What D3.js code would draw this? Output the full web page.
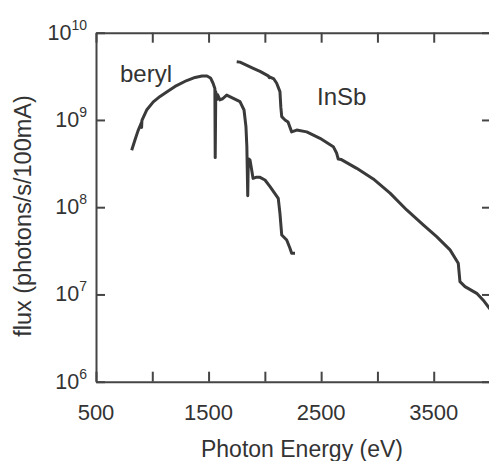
<!DOCTYPE html>
<html>
<head>
<meta charset="utf-8">
<script src="https://cdn.jsdelivr.net/npm/d3@7"></script>
<style>
  body { margin: 0; background: #fff; }
  svg text { font-family: "Liberation Sans", Arial, Helvetica, sans-serif; fill: #333; }
</style>
</head>
<body>
<script>
// flux curves (energy in eV, flux in photons/s/100mA)
var berylEnergy = [817, 846, 873, 903, 905, 908, 950, 1009, 1069, 1128, 1202, 1306, 1380, 1442, 1486, 1517, 1539, 1556, 1559, 1564,
  1572, 1580, 1600, 1625, 1661, 1720, 1779, 1815, 1832, 1840, 1848, 1853, 1868, 1883, 1895, 1921, 1957,
  2001, 2046, 2119, 2134, 2150, 2194, 2223, 2238, 2268];
var berylFlux = [4.5e8, 5.9e8, 7.5e8, 9.3e8, 8.2e8, 9.9e8, 1.3e9, 1.61e9, 1.86e9, 2.09e9, 2.42e9, 2.83e9, 3.07e9, 3.19e9, 3.19e9, 3.03e9, 2.65e9, 2.3e9, 3.7e8, 2.1e9,
  1.7e9, 1.95e9, 1.7e9, 1.75e9, 1.93e9, 1.77e9, 1.62e9, 1.3e9, 8.4e8, 5.0e8, 1.35e8, 3.6e8, 3.48e8, 2.67e8, 2.14e8, 2.2e8, 2.2e8,
  2.05e8, 1.72e8, 1.26e8, 8.5e7, 4.8e7, 4.2e7, 3.38e7, 2.96e7, 2.96e7];

var insbEnergy = [1750, 1779, 1897, 1957, 2030, 2040, 2046, 2080, 2105, 2134, 2142, 2150, 2179, 2206, 2238, 2283, 2372,
  2490, 2608, 2638, 2652, 2676, 2816, 2963, 3112, 3260, 3407, 3526, 3645, 3718, 3733, 3778, 3882, 3940, 3985, 4000];
var insbFlux = [4.65e9, 4.6e9, 3.91e9, 3.6e9, 3.2e9, 3.05e9, 3.1e9, 2.95e9, 2.63e9, 2.11e9, 1.4e9, 1.09e9, 1.0e9, 9.5e8, 7.3e8, 7.65e8, 7.3e8,
  6.16e8, 4.94e8, 4.15e8, 3.57e8, 3.53e8, 2.79e8, 2.11e8, 1.45e8, 9.3e7, 6.27e7, 4.6e7, 3.24e7, 2.28e7, 1.4e7, 1.23e7, 1.03e7, 8.6e6, 7.2e6, 6.8e6];

var xTicks = [500, 1000, 1500, 2000, 2500, 3000, 3500, 4000];
var xLabels = [500, 1500, 2500, 3500];
var yExponents = [6, 7, 8, 9, 10];

var plotLeft = 96, plotRight = 490, plotTop = 32.7, plotBottom = 381.7;

var svg = d3.select("body")
  .append("svg")
    .attr("width", 489)
    .attr("height", 461);

var x = d3.scaleLinear().domain([500, 4000]).range([plotLeft, plotRight]);
var y = d3.scaleLog().domain([1e6, 1e10]).range([plotBottom, plotTop]);

var axisColor = "#454545";
var yTickValues = yExponents.map(function(e) { return Math.pow(10, e); });

// frame axes, ticks pointing inward
function styleAxis(g) {
  g.select(".domain").attr("stroke", axisColor).attr("stroke-width", 2);
  g.selectAll(".tick line").attr("stroke", axisColor).attr("stroke-width", 2);
  g.selectAll(".tick text").remove();
}

svg.append("g")
    .attr("transform", "translate(0," + plotBottom + ")")
    .call(d3.axisBottom(x).tickValues(xTicks).tickSizeInner(-10).tickSizeOuter(0))
    .call(styleAxis);
svg.append("g")
    .attr("transform", "translate(0," + plotTop + ")")
    .call(d3.axisTop(x).tickValues(xTicks).tickSizeInner(-10).tickSizeOuter(0))
    .call(styleAxis);
svg.append("g")
    .attr("transform", "translate(" + plotLeft + ",0)")
    .call(d3.axisLeft(y).tickValues(yTickValues).tickSizeInner(-9).tickSizeOuter(0))
    .call(styleAxis);
svg.append("g")
    .attr("transform", "translate(" + plotRight + ",0)")
    .call(d3.axisRight(y).tickValues(yTickValues).tickSizeInner(-8).tickSizeOuter(0))
    .call(styleAxis);

// x tick labels
svg.selectAll(".xlab")
    .data(xLabels)
    .enter()
  .append("text")
    .attr("class", "xlab")
    .attr("x", function(d) { return x(d); })
    .attr("y", 420)
    .attr("text-anchor", "middle")
    .attr("font-size", "22px")
    .text(function(d) { return d; });

// y tick labels: 10 with superscript exponent
var ylab = svg.selectAll(".ylab")
    .data(yExponents)
    .enter()
  .append("text")
    .attr("class", "ylab")
    .attr("x", 87)
    .attr("y", function(d) { return y(Math.pow(10, d)) + 7; })
    .attr("text-anchor", "end")
    .attr("font-size", "21.5px");
ylab.append("tspan").text("10");
ylab.append("tspan")
    .attr("font-size", "14px")
    .attr("dy", -10)
    .text(function(d) { return d; });

// axis titles
svg.append("text")
    .attr("x", 302)
    .attr("y", 457)
    .attr("text-anchor", "middle")
    .attr("font-size", "23px")
    .text("Photon Energy (eV)");
svg.append("text")
    .attr("transform", "translate(31,216) rotate(-90)")
    .attr("text-anchor", "middle")
    .attr("font-size", "23.5px")
    .text("flux (photons/s/100mA)");

// curves
svg.append("clipPath")
    .attr("id", "plotclip")
  .append("rect")
    .attr("x", plotLeft).attr("y", plotTop)
    .attr("width", plotRight - plotLeft).attr("height", plotBottom - plotTop);

var line = d3.line()
    .x(function(d) { return x(d[0]); })
    .y(function(d) { return y(d[1]); });

var series = [
  berylEnergy.map(function(e, i) { return [e, berylFlux[i]]; }),
  insbEnergy.map(function(e, i) { return [e, insbFlux[i]]; })
];

svg.append("g")
    .attr("clip-path", "url(#plotclip)")
  .selectAll("path")
    .data(series)
    .enter()
  .append("path")
    .attr("d", line)
    .attr("fill", "none")
    .attr("stroke", "#3a3a3a")
    .attr("stroke-width", 3)
    .attr("stroke-linejoin", "round");

// curve labels
svg.append("text")
    .attr("x", 120).attr("y", 82)
    .attr("font-size", "24px")
    .text("beryl");
svg.append("text")
    .attr("x", 317).attr("y", 105)
    .attr("font-size", "24px")
    .text("InSb");
</script>
</body>
</html>
